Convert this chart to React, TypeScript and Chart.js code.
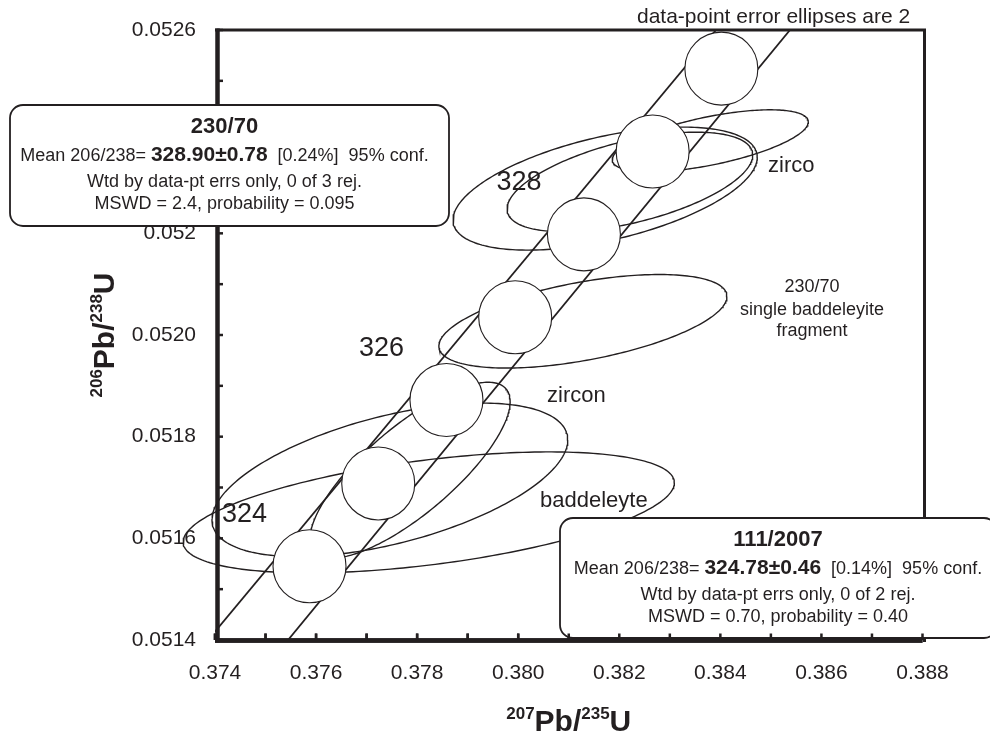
import { useEffect, useRef } from 'react';
import { Chart, registerables } from 'chart.js';

Chart.register(...registerables);

const FONT = '"Liberation Sans", Arial, Helvetica, sans-serif';
const INK = '#231f20';

// Axis ranges and tick labels
const X_MIN = 0.374;
const X_MAX = 0.388;
const X_STEP = 0.001;
const Y_MIN = 0.0514;
const Y_MAX = 0.0526;
const Y_STEP = 0.0001;
const xTickLabels = ['0.374', '0.376', '0.378', '0.380', '0.382', '0.384', '0.386', '0.388'];
const yTickLabels = ['0.0514', '0.0516', '0.0518', '0.0520', '0.052', '0.0524', '0.0526'];

// Concordia age markers (Ma) with their 207Pb/235U and 206Pb/238U positions
const markerAges = [324, 325, 326, 327, 328, 329, 330];
const markerX = [0.37587, 0.37723, 0.37858, 0.37994, 0.3813, 0.38266, 0.38402];
const markerY = [0.051545, 0.051708, 0.051872, 0.052035, 0.052198, 0.052361, 0.052524];
const labelledAges = [324, 326, 328];

// Concordia error band edges
const bandY = [0.0514, 0.0526];
const bandLeftX = [0.373861, 0.383914];
const bandRightX = [0.375445, 0.385378];

// Analyses: centres, 2-sigma half-extents and error correlations
const ellNames = ['230/70 zircon 1', '230/70 zircon 2', '230/70 zircon 3', '230/70 baddeleyite', '111/2007 zircon 1', '111/2007 zircon 2', '111/2007 baddeleyite'];
const ellX = [0.38172, 0.3838, 0.38221, 0.38128, 0.37786, 0.37746, 0.37823];
const ellY = [0.052288, 0.052382, 0.052301, 0.052027, 0.051734, 0.051715, 0.051651];
const ellErrX = [0.00301, 0.00194, 0.00243, 0.00285, 0.00198, 0.00352, 0.00486];
const ellErrY = [0.000121, 0.000061, 0.000098, 0.000092, 0.000173, 0.000151, 0.000119];
const ellRho = [0.51, 0.61, 0.54, 0.53, 0.78, 0.52, 0.49];

// Labels placed in data space
const noteTexts = ['zirco', 'zircon', 'baddeleyte', '230/70', 'single baddeleyite', 'fragment'];
const noteX = [0.384943, 0.38057, 0.380431, 0.385813, 0.385813, 0.385813];
const noteY = [0.0523207, 0.0518682, 0.0516616, 0.0520846, 0.0520393, 0.051998];

// Weighted-mean summaries
const summaryTitles = ['230/70', '111/2007'];
const summaryMeans = ['328.90±0.78', '324.78±0.46'];
const summaryPct = ['0.24%', '0.14%'];
const summaryRejected = [0, 0];
const summaryCount = [3, 2];
const summaryMswd = ['2.4', '0.70'];
const summaryProb = ['0.095', '0.40'];

const BOXES = [
  { x: 10, y: 105, w: 439, h: 121, cx: 224.5 },
  { x: 560, y: 518, w: 437, h: 120, cx: 778 },
];

function ellipseOutline(i: number) {
  const pts: { x: number; y: number }[] = [];
  const r = ellRho[i];
  const s = Math.sqrt(1 - r * r);
  const n = 240;
  for (let k = 0; k <= n; k++) {
    const t = (k / n) * Math.PI * 2;
    pts.push({
      x: ellX[i] + ellErrX[i] * Math.cos(t),
      y: ellY[i] + ellErrY[i] * (r * Math.cos(t) + s * Math.sin(t)),
    });
  }
  return pts;
}

type Run = { text: string; font: string; dy?: number };

function drawRuns(ctx: CanvasRenderingContext2D, runs: Run[], x: number, y: number, align: 'left' | 'center') {
  let total = 0;
  const widths = runs.map((r) => {
    ctx.font = r.font;
    const w = ctx.measureText(r.text).width;
    total += w;
    return w;
  });
  let cur = align === 'center' ? x - total / 2 : x;
  ctx.textAlign = 'left';
  ctx.textBaseline = 'alphabetic';
  runs.forEach((r, i) => {
    ctx.font = r.font;
    ctx.fillText(r.text, cur, y + (r.dy || 0));
    cur += widths[i];
  });
}

function strokeLine(ctx: CanvasRenderingContext2D, x1: number, y1: number, x2: number, y2: number, w: number) {
  ctx.lineWidth = w;
  ctx.beginPath();
  ctx.moveTo(x1, y1);
  ctx.lineTo(x2, y2);
  ctx.stroke();
}

function drawBottomAxis(chart: any) {
  const { ctx, chartArea: a, scales } = chart;
  const x = scales.x;
  ctx.strokeStyle = INK;
  ctx.lineCap = 'butt';
  strokeLine(ctx, a.left, a.bottom + 0.5, a.right, a.bottom + 0.5, 4.5);
  x.ticks.forEach((t: any) => {
    const px = x.getPixelForValue(t.value);
    strokeLine(ctx, px, a.bottom, px, a.bottom - 6.5, 2.5);
  });
}

const overlay = {
  id: 'overlay',
  afterDatasetsDraw(chart: any) {
    const { ctx, chartArea: a, scales } = chart;
    const x = scales.x;
    const y = scales.y;
    ctx.save();
    ctx.strokeStyle = INK;
    ctx.fillStyle = INK;
    ctx.lineCap = 'butt';

    // frame
    strokeLine(ctx, a.left + 2.5, a.top - 1.5, a.left + 2.5, a.bottom + 2.5, 4.5);
    strokeLine(ctx, a.left, a.top, a.right + 3.5, a.top, 3);
    strokeLine(ctx, a.right + 2, a.top, a.right + 2, a.bottom + 2, 3);
    y.ticks.forEach((t: any) => {
      const py = y.getPixelForValue(t.value);
      strokeLine(ctx, a.left + 2, py, a.left + 8, py, 2.5);
    });
    drawBottomAxis(chart);

    // age labels beside concordia markers
    ctx.font = `27px ${FONT}`;
    ctx.textAlign = 'center';
    ctx.textBaseline = 'middle';
    labelledAges.forEach((age) => {
      const i = markerAges.indexOf(age);
      const px = x.getPixelForValue(markerX[i]);
      const py = y.getPixelForValue(markerY[i]);
      ctx.fillText(String(age), px - 65, py - 52);
    });

    // sample labels
    noteTexts.forEach((txt, i) => {
      const small = i >= 3;
      ctx.font = `${small ? 18 : 22}px ${FONT}`;
      ctx.textAlign = small ? 'center' : 'left';
      ctx.textBaseline = 'alphabetic';
      ctx.fillText(txt, x.getPixelForValue(noteX[i]), y.getPixelForValue(noteY[i]));
    });

    // header note
    ctx.font = `21px ${FONT}`;
    ctx.textAlign = 'left';
    ctx.fillText('data-point error ellipses are 2', 637, 23);

    // axis titles
    const sup = `bold 17px ${FONT}`;
    const main = `bold 30px ${FONT}`;
    drawRuns(
      ctx,
      [
        { text: '207', font: sup, dy: -12 },
        { text: 'Pb/', font: main },
        { text: '235', font: sup, dy: -12 },
        { text: 'U', font: main },
      ],
      (a.left + a.right) / 2,
      731,
      'center'
    );
    ctx.save();
    ctx.translate(114, (a.top + a.bottom) / 2);
    ctx.rotate(-Math.PI / 2);
    drawRuns(
      ctx,
      [
        { text: '206', font: sup, dy: -12 },
        { text: 'Pb/', font: main },
        { text: '238', font: sup, dy: -12 },
        { text: 'U', font: main },
      ],
      0,
      0,
      'center'
    );
    ctx.restore();
    ctx.restore();
  },
  afterDraw(chart: any) {
    const { ctx } = chart;
    ctx.save();
    const reg = `18px ${FONT}`;
    BOXES.forEach((b, i) => {
      ctx.beginPath();
      ctx.roundRect(b.x, b.y, b.w, b.h, 13);
      ctx.fillStyle = '#fff';
      ctx.fill();
      ctx.lineWidth = 1.8;
      ctx.strokeStyle = INK;
      ctx.stroke();
      ctx.fillStyle = INK;
      drawRuns(ctx, [{ text: summaryTitles[i], font: `bold 22px ${FONT}` }], b.cx, b.y + 27.5, 'center');
      drawRuns(
        ctx,
        [
          { text: 'Mean 206/238= ', font: reg },
          { text: summaryMeans[i], font: `bold 21px ${FONT}` },
          { text: `  [${summaryPct[i]}]  95% conf.`, font: reg },
        ],
        b.cx,
        b.y + 55.5,
        'center'
      );
      drawRuns(
        ctx,
        [{ text: `Wtd by data-pt errs only, ${summaryRejected[i]} of ${summaryCount[i]} rej.`, font: reg }],
        b.cx,
        b.y + 81.5,
        'center'
      );
      drawRuns(
        ctx,
        [{ text: `MSWD = ${summaryMswd[i]}, probability = ${summaryProb[i]}`, font: reg }],
        b.cx,
        b.y + 104,
        'center'
      );
    });
    drawBottomAxis(chart);
    ctx.restore();
  },
};

export default function App() {
  const ref = useRef<HTMLCanvasElement>(null);

  useEffect(() => {
    if (!ref.current) return;
    const ellipseSets = ellNames.map((name, i) => ({
      label: name,
      data: ellipseOutline(i),
      showLine: true,
      borderColor: INK,
      borderWidth: 1.4,
      pointRadius: 0,
      pointHoverRadius: 0,
      tension: 0,
      fill: false,
      clip: false as any,
      order: 2,
    }));
    const chart = new Chart(ref.current, {
      type: 'scatter',
      data: {
        datasets: [
          {
            label: 'concordia ages',
            data: markerX.map((v, i) => ({ x: v, y: markerY[i] })),
            showLine: false,
            pointRadius: 36.5,
            pointHoverRadius: 36.5,
            pointBackgroundColor: '#ffffff',
            pointBorderColor: INK,
            pointBorderWidth: 1.1,
            clip: false as any,
            order: 0,
          },
          {
            label: 'band lower',
            data: bandY.map((v, i) => ({ x: bandLeftX[i], y: v })),
            showLine: true,
            borderColor: INK,
            borderWidth: 1.8,
            pointRadius: 0,
            order: 1,
          },
          {
            label: 'band upper',
            data: bandY.map((v, i) => ({ x: bandRightX[i], y: v })),
            showLine: true,
            borderColor: INK,
            borderWidth: 1.8,
            pointRadius: 0,
            order: 1,
          },
          ...ellipseSets,
        ] as any,
      },
      options: {
        animation: false,
        responsive: false,
        devicePixelRatio: 1,
        events: [],
        layout: { autoPadding: false, padding: { left: 0, right: 67.5, top: 30, bottom: 0 } },
        plugins: { legend: { display: false }, tooltip: { enabled: false } },
        scales: {
          x: {
            type: 'linear',
            min: X_MIN,
            max: X_MAX,
            afterFit: (s: any) => {
              s.height = 93;
              s.paddingLeft = 0;
              s.paddingRight = 0;
            },
            grid: { display: false, drawTicks: false },
            border: { display: false },
            ticks: {
              stepSize: X_STEP,
              autoSkip: false,
              maxRotation: 0,
              padding: 21,
              color: INK,
              font: { family: FONT, size: 21 },
              callback: (_v: any, i: number) => (i % 2 === 0 ? xTickLabels[i / 2] ?? '' : ''),
            },
          },
          y: {
            type: 'linear',
            min: Y_MIN,
            max: Y_MAX,
            afterFit: (s: any) => {
              s.width = 215;
              s.paddingTop = 0;
              s.paddingBottom = 0;
            },
            grid: { display: false, drawTicks: false },
            border: { display: false },
            ticks: {
              stepSize: Y_STEP,
              autoSkip: false,
              padding: 19,
              color: INK,
              font: { family: FONT, size: 21 },
              callback: (_v: any, i: number) => (i % 2 === 0 ? yTickLabels[i / 2] ?? '' : ''),
            },
          },
        },
      } as any,
      plugins: [overlay],
    });
    return () => chart.destroy();
  }, []);

  return (
    <div style={{ position: 'absolute', left: 0, top: 0, width: 990, height: 733, background: '#fff' }}>
      <canvas ref={ref} width={990} height={733} style={{ display: 'block' }} />
    </div>
  );
}
